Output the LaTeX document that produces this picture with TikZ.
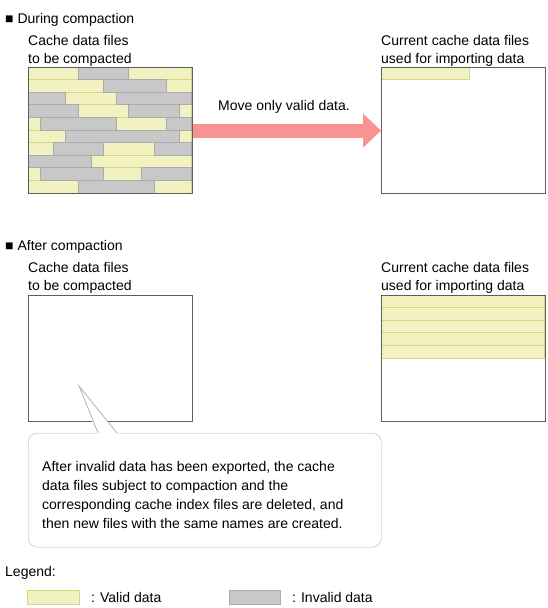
\documentclass[tikz,border=0pt]{standalone}
\usepackage{fontspec}
\setmainfont{Liberation Sans}
\usetikzlibrary{positioning,arrows.meta,calc}
\definecolor{validfill}{HTML}{F1F1C1}
\definecolor{validline}{HTML}{D6D67E}
\definecolor{invalidfill}{HTML}{C8C8C8}
\definecolor{invalidline}{HTML}{ABABAB}
\definecolor{frameline}{HTML}{5E5E5E}
\definecolor{movepink}{HTML}{F99292}
\definecolor{noteline}{HTML}{B4B4B4}

\begin{document}
\begin{tikzpicture}[x=1pt,y=-1pt,every node/.style={font=\fontsize{14}{17.5}\selectfont,inner sep=0pt}]
\tikzstyle{valid}=[draw=validline,fill=validfill,line width=0.8pt]
\tikzstyle{invalid}=[draw=invalidline,fill=invalidfill,line width=0.8pt]
\tikzstyle{area}=[draw=frameline,line width=1.2pt,minimum width=163.8pt,minimum height=126pt]
\tikzstyle{txt}=[anchor=base west,align=left]
\def\cw{12.6}
\useasboundingbox (0,0) rectangle (548,608);

% during compaction
\node[txt] (h1) at (5,23) {■ During compaction};
\node[txt] (src1) at (28,63) {Cache data files\\to be compacted};
\node[txt] (dst1) at (381,63) {Current cache data files\\used for importing data};
\foreach \r in {1,...,10}
  \draw[valid] (28,{67+(\r-1)*\cw}) rectangle ++({13*\cw},\cw);
\foreach \r/\a/\b in {1/4/8,2/6/11,3/0/3,3/7/13,4/0/4,4/8/12,5/1/7,5/11/13,
    6/3/12,7/2/6,7/10/13,8/0/5,9/1/6,9/9/13,10/4/10}
  \draw[invalid] ({28+\a*\cw},{67+(\r-1)*\cw}) rectangle ({28+\b*\cw},{67+\r*\cw});
\draw[valid] (381,67) rectangle ++({7*\cw},\cw);
\node[area,anchor=north west] (lbox) at (28,67) {};
\node[area,anchor=north west] (rbox) at (381,67) {};
\draw[draw=movepink,line width=14pt,-{Triangle[length=18pt,width=34pt,line width=0pt]}] (lbox) -- (rbox);
\node[anchor=base] (move) at (284,110) {Move only valid data.};

% after compaction
\node[txt] (h2) at (5,250) {■ After compaction};
\node[txt] (src2) at (28,290) {Cache data files\\to be compacted};
\node[txt] (dst2) at (381,290) {Current cache data files\\used for importing data};
\foreach \r in {1,...,5}
  \draw[valid] (381,{295+(\r-1)*\cw}) rectangle ++({13*\cw},\cw);
\node[area,anchor=north west] (lbox2) at (28,295) {};
\node[area,anchor=north west] (rbox2) at (381,295) {};

% note
\node[draw=noteline,fill=white,rounded corners=9pt,minimum width=353pt,minimum height=114pt,anchor=north west] (note) at (28,433) {};
\node[txt,font=\fontsize{14}{19}\selectfont] (notetxt) at (42,528) {After invalid data has been exported, the cache\\data files subject to compaction and the\\corresponding cache index files are deleted, and\\then new files with the same names are created.};
\coordinate (tip) at (79,386);
\fill[white] ($(note.north west)+(69,1.2)$) -- (tip) -- ($(note.north west)+(90,1.2)$) -- cycle;
\draw[noteline,line width=0.8pt] ($(note.north west)+(70,0)$) -- (tip) -- ($(note.north west)+(89,0)$);

% legend
\node[txt] (leg) at (5,576) {Legend:};
\node[valid,minimum width=52pt,minimum height=14pt,anchor=north west] (vkey) at (27,590) {};
\node[right=11pt of vkey] (vtxt) {: Valid data};
\node[invalid,minimum width=51pt,minimum height=14pt,anchor=north west] (ikey) at (229,590) {};
\node[right=11pt of ikey] (itxt) {: Invalid data};
\end{tikzpicture}
\end{document}
